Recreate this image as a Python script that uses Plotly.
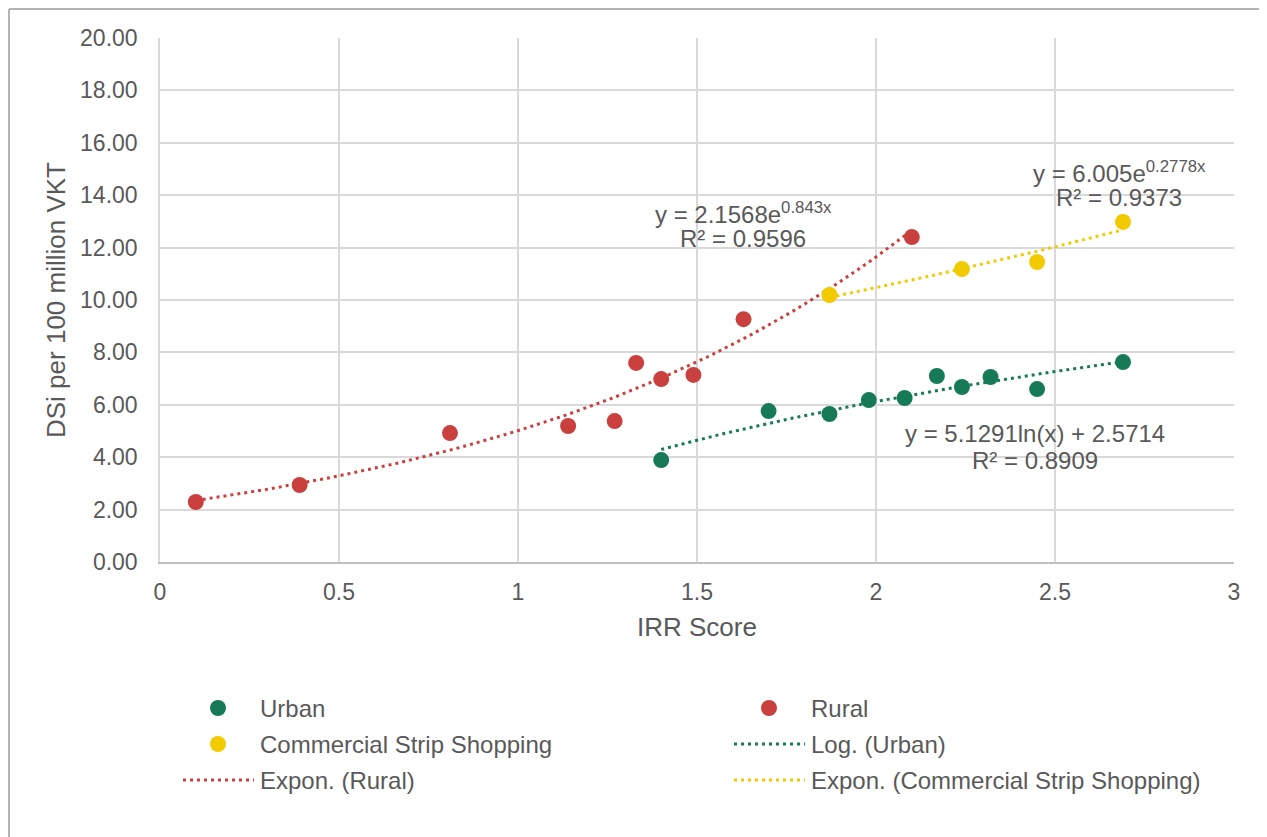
import numpy as np
import plotly.graph_objects as go

# ---- data ----
urban_x = [1.40, 1.70, 1.87, 1.98, 2.08, 2.17, 2.24, 2.32, 2.45, 2.69]
urban_y = [3.89, 5.76, 5.65, 6.18, 6.26, 7.10, 6.68, 7.06, 6.60, 7.63]

rural_x = [0.10, 0.39, 0.81, 1.14, 1.27, 1.33, 1.40, 1.49, 1.63, 2.10]
rural_y = [2.29, 2.94, 4.92, 5.19, 5.38, 7.60, 6.98, 7.14, 9.27, 12.40]

comm_x = [1.87, 2.24, 2.45, 2.69]
comm_y = [10.19, 11.18, 11.45, 12.98]

# trendline coefficients as printed on the chart
urban_log_a, urban_log_b = 5.1291, 2.5714
rural_exp_a, rural_exp_b = 2.1568, 0.843
comm_exp_a, comm_exp_b = 6.005, 0.2778

x_ticks = [0, 0.5, 1, 1.5, 2, 2.5, 3]
x_tick_labels = ["0", "0.5", "1", "1.5", "2", "2.5", "3"]
y_ticks = [0, 2, 4, 6, 8, 10, 12, 14, 16, 18, 20]
y_tick_labels = [f"{v:.2f}" for v in y_ticks]

series_names = ["Urban", "Rural", "Commercial Strip Shopping"]
trend_names = ["Log. (Urban)", "Expon. (Rural)", "Expon. (Commercial Strip Shopping)"]

GREEN = "#177A57"
RED = "#C9403F"
YELLOW = "#F2CA00"
TXT = "#595959"
FONT = "Liberation Sans, Arial, sans-serif"
DASH = "3px,4px"


def span(xs, n=120):
    return np.linspace(min(xs), max(xs), n)


ux = span(urban_x)
uy = urban_log_a * np.log(ux) + urban_log_b
rx = span(rural_x)
ry = rural_exp_a * np.exp(rural_exp_b * rx)
cx = span(comm_x)
cy = comm_exp_a * np.exp(comm_exp_b * cx)

fig = go.Figure()
fig.add_trace(go.Scatter(x=ux, y=uy, mode="lines", name=trend_names[0],
                         line=dict(color=GREEN, width=3, dash=DASH)))
fig.add_trace(go.Scatter(x=rx, y=ry, mode="lines", name=trend_names[1],
                         line=dict(color=RED, width=3, dash=DASH)))
fig.add_trace(go.Scatter(x=cx, y=cy, mode="lines", name=trend_names[2],
                         line=dict(color=YELLOW, width=3, dash=DASH)))
mk = dict(size=16, line=dict(width=0))
fig.add_trace(go.Scatter(x=urban_x, y=urban_y, mode="markers", name=series_names[0],
                         marker=dict(color=GREEN, **mk)))
fig.add_trace(go.Scatter(x=rural_x, y=rural_y, mode="markers", name=series_names[1],
                         marker=dict(color=RED, **mk)))
fig.add_trace(go.Scatter(x=comm_x, y=comm_y, mode="markers", name=series_names[2],
                         marker=dict(color=YELLOW, **mk)))

# page offset (body margin) compensation
OFF = 8
W, H = 1267 - OFF, 837 - OFF
PL, PR, PT, PB = 160, 1234, 38, 562          # plot area in page pixels
L, T = PL - OFF, PT - OFF
R, B = W - (PR - OFF), H - (PB - OFF)
pw, ph = PR - PL, PB - PT


def xp(px):
    return (px - PL) / pw


def yp(py):
    return (PB - py) / ph


def eq(x, y, text):
    fig.add_annotation(x=x, y=y, xref="x", yref="y", text=text, showarrow=False,
                       font=dict(size=24, color=TXT, family=FONT),
                       xanchor="center", yanchor="middle")


eq(1.629, 13.32, "y = 2.1568e<sup>0.843x</sup>")
eq(1.629, 12.33, "R² = 0.9596")
eq(2.68, 14.9, "y = 6.005e<sup>0.2778x</sup>")
eq(2.68, 13.93, "R² = 0.9373")
eq(2.444, 4.92, "y = 5.1291ln(x) + 2.5714")
eq(2.444, 3.89, "R² = 0.8909")

# axis titles
fig.add_annotation(x=xp(56), y=yp(300), xref="paper", yref="paper",
                   text="DSi per 100 million VKT", textangle=-90, showarrow=False,
                   font=dict(size=26, color=TXT, family=FONT),
                   xanchor="center", yanchor="middle")
fig.add_annotation(x=xp(697), y=yp(627), xref="paper", yref="paper",
                   text="IRR Score", showarrow=False,
                   font=dict(size=26, color=TXT, family=FONT),
                   xanchor="center", yanchor="middle")

# custom two-column legend (row-major like the original)
legend_items = [
    (series_names[0], GREEN, "marker"),
    (series_names[1], RED, "marker"),
    (series_names[2], YELLOW, "marker"),
    (trend_names[0], GREEN, "line"),
    (trend_names[1], RED, "line"),
    (trend_names[2], YELLOW, "line"),
]
col_x = [218, 769]
row_y = [708, 744, 780]
for i, (name, color, kind) in enumerate(legend_items):
    cxp = col_x[i % 2]
    ryp = row_y[i // 2]
    if kind == "marker":
        fig.add_shape(type="circle", xref="paper", yref="paper",
                      xsizemode="pixel", ysizemode="pixel",
                      xanchor=xp(cxp), yanchor=yp(ryp),
                      x0=-8, x1=8, y0=-8, y1=8,
                      fillcolor=color, line=dict(width=0))
    else:
        fig.add_shape(type="line", xref="paper", yref="paper",
                      x0=xp(cxp - 35), x1=xp(cxp + 36), y0=yp(ryp), y1=yp(ryp),
                      line=dict(color=color, width=3, dash=DASH))
    fig.add_annotation(x=xp(cxp + 40), y=yp(ryp), xref="paper", yref="paper",
                       text=name, showarrow=False, xanchor="left", yanchor="middle",
                       font=dict(size=24, color=TXT, family=FONT))

# outer chart border: only top and left edges are visible in the original
BORDER = dict(color="#B3B3B3", width=2)
fig.add_shape(type="line", xref="paper", yref="paper",
              x0=xp(9), x1=xp(1300), y0=yp(9), y1=yp(9), line=BORDER, layer="below")
fig.add_shape(type="line", xref="paper", yref="paper",
              x0=xp(9), x1=xp(9), y0=yp(9), y1=yp(900), line=BORDER, layer="below")

fig.update_layout(
    width=W, height=H,
    margin=dict(l=L, r=R, t=T, b=B, autoexpand=False),
    paper_bgcolor="white", plot_bgcolor="white",
    font=dict(family=FONT, color=TXT, size=23),
    showlegend=False,
    xaxis=dict(range=[0, 3], tickvals=x_ticks, ticktext=x_tick_labels,
               showgrid=True, gridcolor="#D9D9D9", gridwidth=1.5,
               showline=True, linecolor="#BFBFBF", linewidth=2, zeroline=False,
               ticks="", ticklabelstandoff=8, tickfont=dict(size=23, color=TXT),
               automargin=False),
    yaxis=dict(range=[0, 20], tickvals=y_ticks, ticktext=y_tick_labels,
               showgrid=True, gridcolor="#D9D9D9", gridwidth=1.5,
               showline=True, linecolor="#D9D9D9", linewidth=1.5, zeroline=False,
               ticks="", ticklabelstandoff=16, tickfont=dict(size=23, color=TXT),
               automargin=False),
)

fig.write_html("out.html")
